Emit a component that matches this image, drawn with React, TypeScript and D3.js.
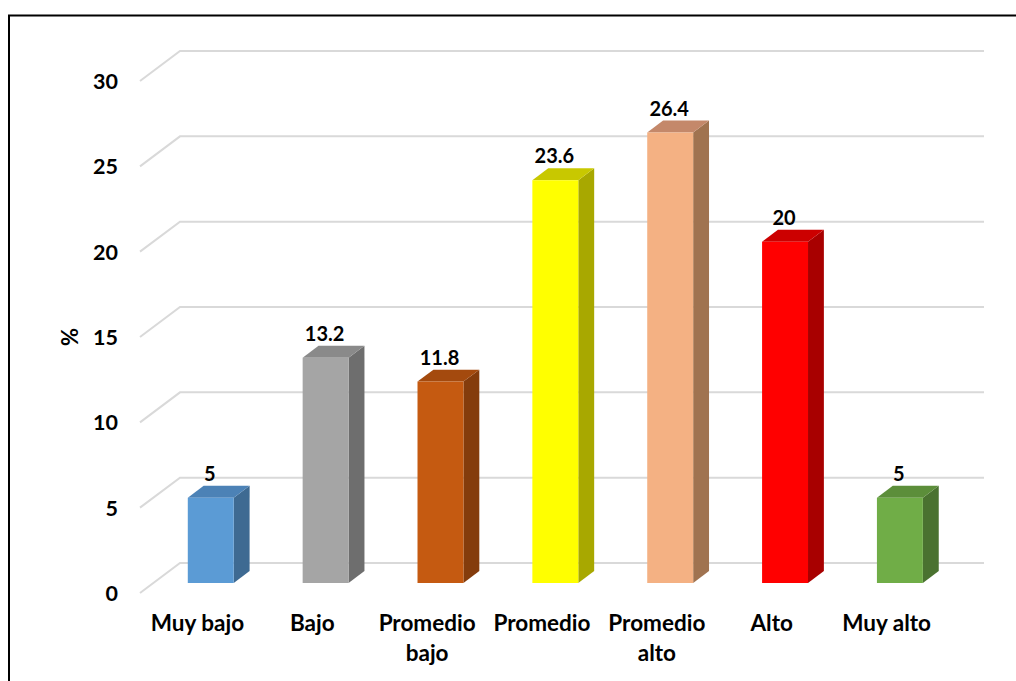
import React from "react";
import * as d3 from "d3";

const categories: string[][] = [["Muy bajo"], ["Bajo"], ["Promedio", "bajo"], ["Promedio"], ["Promedio", "alto"], ["Alto"], ["Muy alto"]];
const values: number[] = [5, 13.2, 11.8, 23.6, 26.4, 20, 5];
const valueLabels: string[] = ["5", "13.2", "11.8", "23.6", "26.4", "20", "5"];
const yTicks: number[] = [0, 5, 10, 15, 20, 25, 30];
const frontColors = ["#5B9BD5", "#A5A5A5", "#C55A11", "#FFFF00", "#F4B183", "#FF0000", "#70AD47"];
const sideColors = ["#3E6A92", "#6E6E6E", "#843C0C", "#A8A800", "#A07350", "#A80000", "#4A7230"];
const topColors = ["#4C82B6", "#8A8A8A", "#A44A0E", "#C8C800", "#C4886A", "#CC0000", "#5C8E3A"];

const FONT = "Lato, 'Open Sans', sans-serif";

export default function App() {
  const W = 1016, H = 681;
  const frontX0 = 140, frontX1 = 944;
  const depthDX = 40, depthDY = -30;
  const y = d3.scaleLinear().domain([0, 30]).range([593, 81]);
  const x = d3.scaleBand<number>().domain(d3.range(values.length)).range([frontX0, frontX1]).paddingInner(0).paddingOuter(0);
  const proj = (px: number, v: number, d: number): [number, number] => [px + depthDX * d, y(v) + depthDY * d];
  const d0 = 1 / 3, d1 = 0.73;
  const barFrac = 0.4;
  const pts = (arr: [number, number][]) => arr.map(p => p.join(",")).join(" ");

  return (
    <svg width={W} height={H} style={{ position: "absolute", left: 0, top: 0, background: "#fff" }}>
      <rect x={0} y={0} width={W} height={H} fill="#fff" />
      {/* frame */}
      <path d={`M9,${H + 5} L9,15.5 L${W + 5},15.5`} fill="none" stroke="#000" strokeWidth={2} />
      {/* gridlines */}
      {yTicks.map(t => {
        const a = proj(frontX0, t, 0);
        const b = proj(frontX0, t, 1);
        const c = proj(frontX1, t, 1);
        return (
          <g key={t}>
            <polyline points={pts([a, b, c])} fill="none" stroke="#D9D9D9" strokeWidth={2} />
            <text x={118} y={a[1] + 8} textAnchor="end" fontFamily={FONT} fontWeight={700} fontSize={21.5} fill="#000">{t}</text>
          </g>
        );
      })}
      {/* bars */}
      {values.map((v, i) => {
        const bw = x.bandwidth();
        const cx = (x(i) as number) + bw / 2;
        const w = bw * barFrac;
        const l = cx - w / 2, r = cx + w / 2;
        const fBL = proj(l, 0, d0), fBR = proj(r, 0, d0), fTL = proj(l, v, d0), fTR = proj(r, v, d0);
        const bBR = proj(r, 0, d1), bTR = proj(r, v, d1), bTL = proj(l, v, d1);
        return (
          <g key={i}>
            <polygon points={pts([fBR, bBR, bTR, fTR])} fill={sideColors[i]} />
            <polygon points={pts([fTL, fTR, bTR, bTL])} fill={topColors[i]} />
            <polygon points={pts([fBL, fBR, fTR, fTL])} fill={frontColors[i]} />
            <text x={(fTL[0] + fTR[0]) / 2 - 1} y={bTL[1] - 5} textAnchor="middle" fontFamily={FONT} fontWeight={700} fontSize={20} fill="#000">{valueLabels[i]}</text>
            <text textAnchor="middle" fontFamily={FONT} fontWeight={700} fontSize={22.5} fill="#000">
              {categories[i].map((line, k) => (
                <tspan key={k} x={cx} y={631 + k * 30}>{line}</tspan>
              ))}
            </text>
          </g>
        );
      })}
      <text transform="translate(78,337) rotate(-90)" textAnchor="middle" fontFamily={FONT} fontWeight={700} fontSize={22} fill="#000">%</text>
    </svg>
  );
}
